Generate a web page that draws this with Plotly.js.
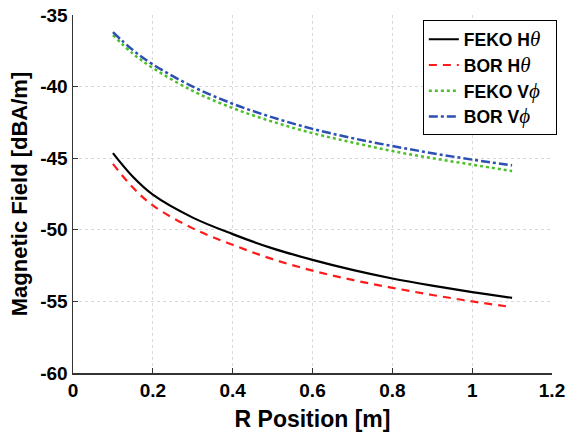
<!DOCTYPE html>
<html>
<head>
<meta charset="utf-8">
<script src="https://cdn.plot.ly/plotly-3.0.1.min.js"></script>
<style>
html,body{margin:0;padding:0;background:#fff;}
#chart{width:568px;height:438px;}
.xtick text, .ytick text {font-weight: bold !important;}
</style>
</head>
<body>
<div id="chart"></div>
<script>
var rPos = [0.1, 0.15, 0.2, 0.3, 0.4, 0.5, 0.6, 0.7, 0.8, 0.9, 1.0, 1.1];
var fekoHtheta = [-44.65, -46.3, -47.55, -49.15, -50.3, -51.3, -52.1, -52.8, -53.4, -53.9, -54.35, -54.75];
var borHtheta  = [-45.4, -47.05, -48.3, -49.9, -51.05, -52.05, -52.85, -53.5, -54.05, -54.55, -55.0, -55.4];
var fekoVphi   = [-36.4, -37.7, -38.7, -40.3, -41.5, -42.45, -43.25, -43.9, -44.5, -45.0, -45.45, -45.9];
var borVphi    = [-36.2, -37.45, -38.45, -40.0, -41.2, -42.15, -42.95, -43.6, -44.15, -44.65, -45.1, -45.5];
var seriesNames = ['FEKO H', 'BOR H', 'FEKO V', 'BOR V'];
var greek = ['θ', 'θ', 'ϕ', 'ϕ'];
var xTicks = [0, 0.2, 0.4, 0.6, 0.8, 1, 1.2];
var xTickText = ['0', '0.2', '0.4', '0.6', '0.8', '1', '1.2'];
var yTicks = [-60, -55, -50, -45, -40, -35];
var yTickText = ['-60', '-55', '-50', '-45', '-40', '-35'];

function nm(i){
  return '<b>' + seriesNames[i] + '</b><span style="font-family:\'Liberation Serif\';font-style:italic;font-weight:normal;font-size:21px">' + greek[i] + '</span>&nbsp;&nbsp;';
}

var traces = [
  {x: rPos, y: fekoHtheta, name: nm(0), mode: 'lines', line: {color: '#000000', width: 2.2, shape: 'spline'}},
  {x: rPos, y: borHtheta, name: nm(1), mode: 'lines', line: {color: '#ff1a1a', width: 2.2, dash: '8px,6px', shape: 'spline'}},
  {x: rPos, y: fekoVphi, name: nm(2), mode: 'lines', line: {color: '#4cbf2a', width: 2.5, dash: 'dot', shape: 'spline'}},
  {x: rPos, y: borVphi, name: nm(3), mode: 'lines', line: {color: '#2b4fb3', width: 2.5, dash: 'dashdot', shape: 'spline'}}
];

var layout = {
  width: 568, height: 438,
  margin: {l: 73, r: 15, t: 15, b: 65},
  paper_bgcolor: '#ffffff', plot_bgcolor: '#ffffff',
  font: {family: 'Liberation Sans, Arial, sans-serif', color: '#000000', size: 19},
  showlegend: true,
  legend: {
    x: 1.008, xanchor: 'right', y: 0.985, yanchor: 'top',
    bgcolor: '#ffffff', bordercolor: '#000000', borderwidth: 1,
    font: {size: 17.5, color: '#000000', family: 'Liberation Sans, Arial, sans-serif'},
    tracegroupgap: 0, itemwidth: 30
  },
  xaxis: {
    range: [0, 1.2], tickvals: xTicks, ticktext: xTickText,
    showgrid: true, gridcolor: '#d9d9d9', griddash: 'dot', gridwidth: 1,
    zeroline: false, showline: true, linecolor: '#333333', linewidth: 1.5,
    ticks: 'inside', ticklen: 5, tickcolor: '#333333',
    tickfont: {size: 19, weight: 700, color: '#000000', family: 'Liberation Sans'},
    title: {text: '<b>R Position [m]</b>', font: {size: 23}, standoff: 10}
  },
  yaxis: {
    range: [-60, -35], tickvals: yTicks, ticktext: yTickText,
    showgrid: true, gridcolor: '#d9d9d9', griddash: 'dot', gridwidth: 1,
    zeroline: false, showline: true, linecolor: '#333333', linewidth: 1.5,
    ticks: 'inside', ticklen: 5, tickcolor: '#333333',
    tickfont: {size: 19, weight: 700, color: '#000000', family: 'Liberation Sans'},
    title: {text: '<b>Magnetic Field [dBA/m]</b>', font: {size: 22}, standoff: 6}
  }
};

Plotly.newPlot('chart', traces, layout, {displayModeBar: false, staticPlot: true});
</script>
</body>
</html>
